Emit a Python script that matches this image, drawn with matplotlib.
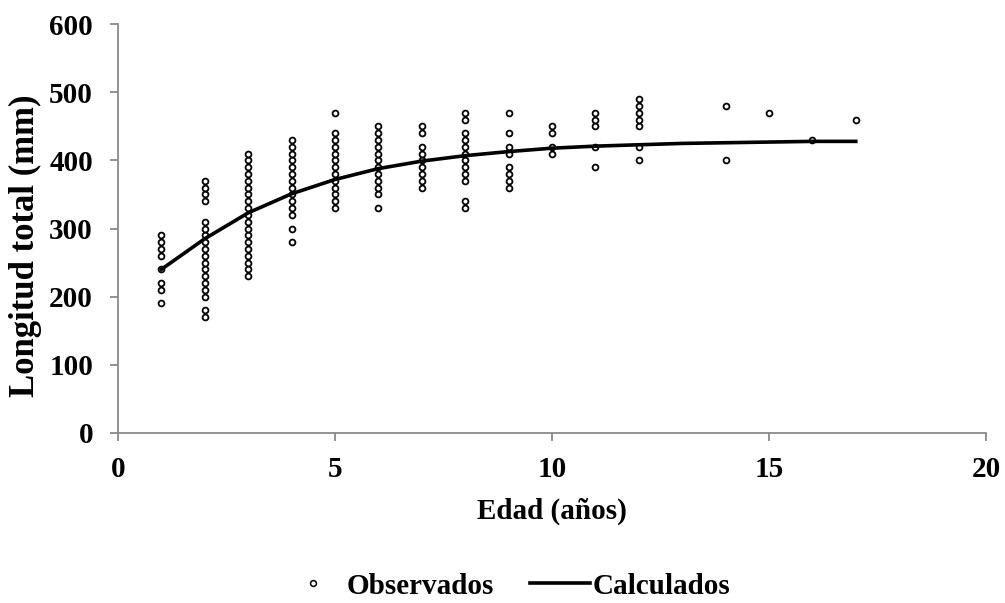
import matplotlib
matplotlib.use("Agg")
import matplotlib.pyplot as plt
from matplotlib.lines import Line2D

# Observed lengths (mm) by age (years)
obs_age1 = [190, 210, 220, 240, 260, 270, 280, 290]
obs_age2 = [170, 180, 200, 210, 220, 230, 240, 250, 260, 270, 280, 290, 300, 310, 340, 350, 360, 370]
obs_age3 = [230, 240, 250, 260, 270, 280, 290, 300, 310, 320, 330, 340, 350, 360, 370, 380, 390, 400, 410]
obs_age4 = [280, 300, 320, 330, 340, 350, 360, 370, 380, 390, 400, 410, 420, 430]
obs_age5 = [330, 340, 350, 360, 370, 380, 390, 400, 410, 420, 430, 440, 470]
obs_age6 = [330, 350, 360, 370, 380, 390, 400, 410, 420, 430, 440, 450]
obs_age7 = [360, 370, 380, 390, 400, 410, 420, 440, 450]
obs_age8 = [330, 340, 370, 380, 390, 400, 410, 420, 430, 440, 460, 470]
obs_age9 = [360, 370, 380, 390, 410, 420, 440, 470]
obs_age10 = [410, 420, 440, 450]
obs_age11 = [390, 420, 450, 460, 470]
obs_age12 = [400, 420, 450, 460, 470, 480, 490]
obs_age14 = [400, 480]
obs_age15 = [470]
obs_age16 = [430]
obs_age17 = [460]

obs_groups = {1: obs_age1, 2: obs_age2, 3: obs_age3, 4: obs_age4, 5: obs_age5,
              6: obs_age6, 7: obs_age7, 8: obs_age8, 9: obs_age9, 10: obs_age10,
              11: obs_age11, 12: obs_age12, 14: obs_age14, 15: obs_age15,
              16: obs_age16, 17: obs_age17}

# Calculated (fitted) lengths
calc_age = [1, 2, 3, 4, 5, 6, 7, 8, 9, 10, 11, 12, 13, 14, 15, 16, 17]
calc_len = [240, 285, 323, 351, 372, 388, 399, 407, 413, 418, 421, 423, 425, 426, 427, 428, 428]

x_ticks = [0, 5, 10, 15, 20]
y_ticks = [0, 100, 200, 300, 400, 500, 600]

plt.rcParams['font.family'] = ['Liberation Serif', 'DejaVu Serif']
plt.rcParams['font.weight'] = 'bold'

W, H = 1005, 603
fig = plt.figure(figsize=(W / 100, H / 100), dpi=100)
ax = fig.add_axes([118 / W, 1 - 432.7 / H, (986 - 118) / W, (432.7 - 24.3) / H])

xs, ys = [], []
for a, vals in obs_groups.items():
    xs += [a] * len(vals)
    ys += vals
ax.plot(xs, ys, linestyle='none', marker='o', markersize=4.2, markerfacecolor='white',
        markeredgecolor='black', markeredgewidth=1.3, zorder=2)
ax.plot(calc_age, calc_len, color='black', linewidth=2.6, zorder=3)

ax.set_xlim(0, 20)
ax.set_ylim(0, 600)
ax.set_xticks(x_ticks)
ax.set_yticks(y_ticks)
for s in ['top', 'right']:
    ax.spines[s].set_visible(False)
for s in ['left', 'bottom']:
    ax.spines[s].set_color('#8a8a8a')
    ax.spines[s].set_linewidth(1.3)
ax.tick_params(axis='both', direction='out', length=6, width=1.3, color='#8a8a8a',
               labelsize=21)
ax.tick_params(axis='x', pad=11)
ax.tick_params(axis='y', pad=12)
for lab in ax.get_xticklabels() + ax.get_yticklabels():
    lab.set_fontweight('bold')

fig.text(552 / W, 1 - 511 / H, 'Edad (años)', fontsize=21, fontweight='bold',
         ha='center', va='center')
fig.text(25 / W, 1 - 246 / H, 'Longitud total (mm)', fontsize=25, fontweight='bold',
         ha='center', va='center', rotation=90)

handles = [Line2D([], [], linestyle='none', marker='o', markersize=4.2, markerfacecolor='white',
                  markeredgecolor='black', markeredgewidth=1.1),
           Line2D([], [], color='black', linewidth=2.6)]
fig.legend(handles, ['Observados', 'Calculados'], loc='center',
           bbox_to_anchor=(507 / W, 1 - 586 / H), ncol=2, frameon=False,
           prop={'family': 'Liberation Serif', 'weight': 'bold', 'size': 21},
           handlelength=2.05, handletextpad=0.1, columnspacing=1.25,
           borderaxespad=0, borderpad=0)

fig.savefig('out.png', dpi=100)
